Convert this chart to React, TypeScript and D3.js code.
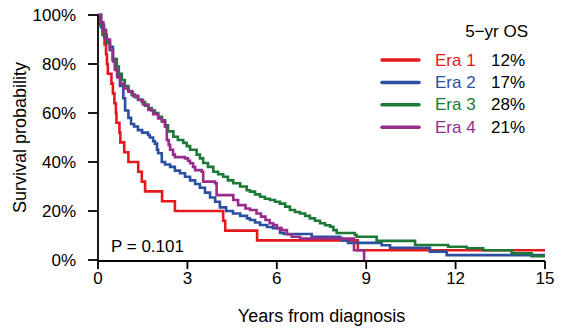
import { useEffect, useRef } from 'react'
import * as d3 from 'd3'

// Kaplan-Meier steps: [years, survival %]
const ERA1 = [[0,100],[0.08,96],[0.15,92],[0.22,88],[0.27,84],[0.3,80],[0.33,76],[0.45,72],[0.5,68],[0.55,64],[0.6,60],[0.62,56],[0.72,52],[0.75,48],[0.88,44],[1.02,40],[1.35,36],[1.47,32],[1.58,28],[2.15,24],[2.58,20],[4.2,16],[4.27,12],[5.34,8],[8.72,4],[15,4]]
const ERA2 = [[0,100],[0.1,95],[0.2,91],[0.3,89.5],[0.4,87],[0.5,82],[0.57,78],[0.64,75],[0.74,71],[0.85,66],[0.91,61],[1.02,58],[1.11,55.5],[1.21,54.5],[1.34,53],[1.48,52],[1.68,51],[1.74,50],[1.85,48.5],[1.91,47.5],[1.98,45],[2.02,43.6],[2.14,40],[2.25,39],[2.42,38],[2.58,36.5],[2.75,35.4],[2.92,34],[3.09,32.5],[3.26,31],[3.42,29.5],[3.59,27.5],[3.76,25.5],[3.93,23.8],[4.09,21.5],[4.3,20],[4.53,19],[4.77,18],[5.0,17],[5.1,16.3],[5.27,15.3],[5.44,14.3],[5.67,13.5],[5.87,13],[6.11,11],[6.24,10.6],[7.17,9.5],[8.12,9],[8.18,8],[8.39,7],[9.52,6],[9.8,5],[11.14,3.4],[11.7,2],[15,2]]
const ERA3 = [[0,100],[0.1,96],[0.2,92],[0.29,88.5],[0.4,85.7],[0.5,82],[0.63,79],[0.7,76],[0.8,73.5],[0.9,71],[1.02,69],[1.13,67.5],[1.24,66.5],[1.34,65.5],[1.47,64.5],[1.58,63],[1.69,62],[1.8,61],[1.91,60],[2.02,58.5],[2.14,57],[2.25,55],[2.35,52.5],[2.53,50.3],[2.68,49],[2.86,47.8],[2.98,46.5],[3.09,45],[3.31,43],[3.42,41.5],[3.53,39.6],[3.69,38],[3.87,36],[4.03,35],[4.2,34],[4.36,32.5],[4.54,31.3],[4.77,30],[4.99,28.5],[5.1,27.9],[5.27,26.8],[5.44,25.8],[5.6,25],[5.77,24.5],[5.94,23.8],[6.1,23],[6.28,21.8],[6.44,20.4],[6.61,19.6],[6.78,19],[6.95,18],[7.11,17],[7.28,16],[7.45,15],[7.62,14.2],[7.79,13.6],[7.9,12.2],[8.01,11],[8.62,10.2],[8.68,9.5],[9.35,7.8],[10.64,6.1],[11.75,5.4],[12.37,4.8],[12.93,4],[13.88,2.7],[14.55,1.6],[15,1.6]]
const ERA4 = [[0,100],[0.1,97],[0.18,94],[0.27,90],[0.4,85.7],[0.5,81],[0.57,77.6],[0.65,74.5],[0.74,72],[0.87,70],[1.02,68.7],[1.17,67],[1.35,65.3],[1.51,63.5],[1.69,61.2],[1.85,59.5],[2.02,57.8],[2.15,56.5],[2.25,54.4],[2.31,49],[2.37,47],[2.42,45],[2.52,43],[2.58,42],[2.92,41.5],[3.02,40.5],[3.09,39.5],[3.19,38],[3.26,36.7],[3.48,36],[3.53,32],[3.93,31.3],[3.98,26.5],[4.54,24.5],[4.7,22.4],[4.95,21],[5.1,20.4],[5.32,19],[5.47,17.7],[5.62,16.3],[5.76,15],[5.88,14.3],[6.0,13],[6.16,12.2],[6.34,10.5],[6.5,9.5],[6.78,8.8],[8.59,4],[8.93,0]]

const ERA_LABELS = ['Era 1', 'Era 2', 'Era 3', 'Era 4']
const OS_5YR = ['12%', '17%', '28%', '21%']
const COLORS = ['#E3191F', '#2B4FA1', '#1C7A36', '#982C8C']
const X_TICKS = [0, 3, 6, 9, 12, 15]
const Y_TICKS = [0, 20, 40, 60, 80, 100]

const FONT = '"Liberation Sans", Arial, sans-serif'

export default function App() {
  const svgRef = useRef(null)

  useEffect(() => {
    const W = 565, H = 331
    const svg = d3.select(svgRef.current)
    svg.selectAll('*').remove()
    svg.attr('width', W).attr('height', H)

    const x = d3.scaleLinear().domain([0, 15]).range([98, 545])
    const y = d3.scaleLinear().domain([0, 100]).range([260, 15])
    const axisY = 261

    // curves
    const line = d3.line().x(d => x(d[0])).y(d => y(d[1])).curve(d3.curveStepAfter)
    ;[ERA1, ERA2, ERA3, ERA4].forEach((data, i) => {
      svg.append('path')
        .attr('d', line(data))
        .attr('fill', 'none')
        .attr('stroke', COLORS[i])
        .attr('stroke-width', 2.6)
    })

    // y axis
    const ga = svg.append('g').attr('stroke', '#000').attr('stroke-width', 1.8)
    ga.append('line').attr('x1', x(0)).attr('x2', x(0)).attr('y1', y(100)).attr('y2', axisY)
    Y_TICKS.forEach(t => {
      ga.append('line').attr('x1', x(0) - 10).attr('x2', x(0)).attr('y1', y(t)).attr('y2', y(t))
      svg.append('text')
        .attr('x', 76).attr('y', y(t))
        .attr('text-anchor', 'end').attr('dominant-baseline', 'central')
        .attr('font-family', FONT).attr('font-size', 17)
        .text(`${t}%`)
    })

    // x axis
    ga.append('line').attr('x1', x(0)).attr('x2', x(15)).attr('y1', axisY).attr('y2', axisY)
    X_TICKS.forEach(t => {
      ga.append('line').attr('x1', x(t)).attr('x2', x(t)).attr('y1', axisY).attr('y2', axisY + 8)
      svg.append('text')
        .attr('x', x(t)).attr('y', 284)
        .attr('text-anchor', 'middle')
        .attr('font-family', FONT).attr('font-size', 17)
        .text(t)
    })

    svg.append('text')
      .attr('x', (x(0) + x(15)) / 2).attr('y', 322)
      .attr('text-anchor', 'middle')
      .attr('font-family', FONT).attr('font-size', 18)
      .text('Years from diagnosis')

    svg.append('text')
      .attr('transform', `translate(26,${(y(0) + y(100)) / 2}) rotate(-90)`)
      .attr('text-anchor', 'middle')
      .attr('font-family', FONT).attr('font-size', 18)
      .text('Survival probability')

    svg.append('text')
      .attr('x', 111).attr('y', 252)
      .attr('font-family', FONT).attr('font-size', 17)
      .text('P = 0.101')

    // legend
    svg.append('text')
      .attr('x', 528).attr('y', 37)
      .attr('text-anchor', 'end')
      .attr('font-family', FONT).attr('font-size', 17)
      .text('5\u2212yr OS')

    ERA_LABELS.forEach((lab, i) => {
      const ly = 60 + i * 22.4
      svg.append('line')
        .attr('x1', 382).attr('x2', 419).attr('y1', ly).attr('y2', ly)
        .attr('stroke', COLORS[i]).attr('stroke-width', 3.5).attr('stroke-linecap', 'round')
      svg.append('text')
        .attr('x', 435).attr('y', ly).attr('dominant-baseline', 'central')
        .attr('fill', COLORS[i])
        .attr('font-family', FONT).attr('font-size', 17)
        .text(lab)
      svg.append('text')
        .attr('x', 525).attr('y', ly).attr('dominant-baseline', 'central')
        .attr('text-anchor', 'end')
        .attr('font-family', FONT).attr('font-size', 17)
        .text(OS_5YR[i])
    })
  }, [])

  return (
    <svg ref={svgRef} style={{ position: 'absolute', left: 0, top: 0, background: '#fff' }} />
  )
}
